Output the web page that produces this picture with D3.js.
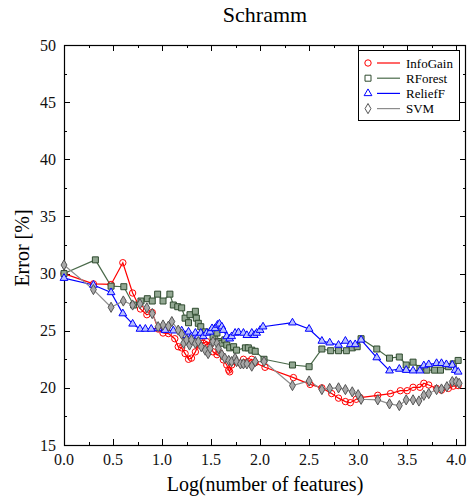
<!DOCTYPE html>
<html>
<head>
<meta charset="utf-8">
<script src="https://cdn.jsdelivr.net/npm/d3@7"></script>
<style>
  body { margin: 0; background: #fff; }
  svg text { font-family: "Liberation Serif", "DejaVu Serif", serif; }
</style>
</head>
<body>
<div id="chart"></div>
<script>
// data: [log10(number of features), error %]
const infoGain = [
  [0.00,30.0],[0.30,29.1],[0.48,29.05],[0.60,30.95],[0.70,28.3],[0.78,26.9],[0.845,26.4],[0.90,26.6],
  [0.96,25.15],[1.01,24.8],[1.065,24.75],[1.13,24.3],[1.165,23.6],[1.20,23.5],[1.235,23.0],[1.27,22.5],
  [1.30,22.6],[1.34,23.15],[1.37,23.75],[1.39,24.05],[1.42,23.9],[1.455,24.05],[1.49,23.75],[1.52,23.15],
  [1.56,22.9],[1.59,23.05],[1.625,22.45],[1.66,22.0],[1.68,21.55],[1.69,21.4],[1.71,22.0],[1.745,22.3],
  [1.80,22.15],[1.83,22.5],[1.88,22.3],[1.915,22.5],[1.95,22.2],[2.05,21.8],[2.34,20.9],[2.51,20.3],
  [2.63,20.0],[2.73,19.5],[2.80,19.1],[2.87,18.8],[2.92,18.7],[2.98,19.0],[3.02,19.15],[3.20,19.35],
  [3.33,19.5],[3.43,19.75],[3.50,19.75],[3.56,20.05],[3.63,20.05],[3.67,20.4],[3.72,20.25],[3.80,19.95],
  [3.85,19.8],[3.92,19.95],[3.97,20.15],[4.02,20.2]
];
const rForest = [
  [0.00,30.0],[0.32,31.2],[0.48,28.9],[0.61,28.85],[0.71,27.25],[0.785,27.6],[0.85,27.8],[0.90,27.6],
  [0.955,28.2],[1.01,27.6],[1.08,28.2],[1.115,27.25],[1.16,27.1],[1.20,27.0],[1.235,26.1],[1.27,25.7],
  [1.285,26.4],[1.34,26.7],[1.35,26.1],[1.37,25.65],[1.395,25.35],[1.44,24.9],[1.52,24.5],[1.56,24.8],
  [1.575,24.05],[1.61,23.9],[1.64,24.2],[1.66,23.75],[1.69,23.5],[1.73,23.6],[1.76,23.3],[1.85,23.5],
  [1.88,23.5],[1.915,23.3],[1.95,23.2],[2.04,22.5],[2.33,22.0],[2.50,21.85],[2.63,23.4],[2.72,23.25],
  [2.80,23.25],[2.88,23.25],[2.94,23.5],[2.99,23.6],[3.03,24.3],[3.19,23.4],[3.32,22.6],[3.42,22.7],
  [3.49,22.0],[3.56,22.25],[3.63,21.7],[3.70,21.55],[3.78,21.55],[3.84,21.55],[3.92,21.85],[3.97,22.1],
  [4.02,22.4]
];
const reliefF = [
  [0.00,29.6],[0.30,29.0],[0.48,28.35],[0.60,26.5],[0.70,25.6],[0.775,25.15],[0.83,25.15],[0.89,25.15],
  [0.96,25.2],[1.03,25.05],[1.115,25.0],[1.20,25.0],[1.235,24.6],[1.27,24.9],[1.30,24.5],[1.34,24.8],
  [1.37,24.5],[1.395,24.8],[1.42,24.5],[1.455,24.8],[1.49,24.9],[1.51,25.2],[1.54,25.2],[1.565,25.5],
  [1.585,25.6],[1.61,25.35],[1.625,25.05],[1.66,24.5],[1.69,24.3],[1.71,24.5],[1.745,24.8],[1.78,24.85],
  [1.83,24.8],[1.865,24.6],[1.915,24.8],[1.94,24.6],[1.965,24.8],[2.00,25.05],[2.03,25.35],[2.33,25.7],
  [2.50,25.15],[2.63,24.1],[2.71,23.95],[2.80,23.75],[2.87,24.1],[2.92,23.8],[2.97,23.8],[3.03,24.2],
  [3.19,22.65],[3.32,21.5],[3.42,21.65],[3.49,21.55],[3.56,21.5],[3.63,21.5],[3.67,21.95],[3.72,22.05],
  [3.80,22.15],[3.85,22.15],[3.90,22.05],[3.96,22.0],[3.99,21.55],[4.02,21.4]
];
const svm = [
  [0.00,30.75],[0.30,28.6],[0.48,27.05],[0.605,27.6],[0.70,27.25],[0.775,27.35],[0.845,27.0],[0.90,26.5],
  [0.96,25.35],[1.01,25.5],[1.065,25.4],[1.10,25.8],[1.165,25.05],[1.20,24.7],[1.22,23.9],[1.25,24.2],
  [1.28,23.75],[1.30,24.2],[1.34,23.9],[1.37,24.05],[1.40,23.6],[1.44,23.3],[1.47,23.0],[1.49,23.45],
  [1.52,24.05],[1.56,23.9],[1.575,23.45],[1.61,22.9],[1.64,22.6],[1.68,22.4],[1.71,22.3],[1.745,22.6],
  [1.76,22.3],[1.80,22.1],[1.83,22.1],[1.865,22.1],[1.915,21.9],[1.95,22.3],[2.04,22.3],[2.33,20.2],
  [2.50,20.6],[2.63,19.85],[2.71,19.95],[2.80,20.0],[2.87,19.85],[2.94,19.65],[3.00,19.4],[3.03,19.0],
  [3.20,18.95],[3.32,18.6],[3.42,18.45],[3.49,18.95],[3.56,18.95],[3.62,18.85],[3.67,19.35],[3.72,19.5],
  [3.80,19.85],[3.85,19.9],[3.905,20.1],[3.96,20.55],[4.00,20.55],[4.03,20.4]
];
const seriesNames = ["InfoGain", "RForest", "ReliefF", "SVM"];
const xTicks = [0, 0.5, 1.0, 1.5, 2.0, 2.5, 3.0, 3.5, 4.0];
const yTicks = [15, 20, 25, 30, 35, 40, 45, 50];

const width = 468, height = 503;
const marginTop = 45, marginRight = 2, marginBottom = 58, marginLeft = 64;

const svg = d3.select("#chart").append("svg")
  .attr("width", width)
  .attr("height", height);

const x = d3.scaleLinear().domain([0, 4.1]).range([marginLeft, width - marginRight]);
const y = d3.scaleLinear().domain([15, 50]).range([height - marginBottom, marginTop]);

const styles = [
  { data: infoGain, line: "#ff0000", stroke: "#ff0000", fill: "none", symbol: d3.symbolCircle, size: 32 },
  { data: rForest, line: "#4a6a4a", stroke: "#2f4a2f", fill: "#93a893", symbol: d3.symbolSquare, size: 36 },
  { data: reliefF, line: "#0000ff", stroke: "#0000ff", fill: "#b8c0ff", symbol: d3.symbolTriangle, size: 26 },
  { data: svm, line: "#8c8c8c", stroke: "#555555", fill: "#a8a8a8", symbol: d3.symbolDiamond, size: 30 }
];

// minor + major ticks, pointing inward on all four sides
const xMinor = d3.range(0, 4.01, 0.25);
const yMinor = d3.range(15, 50.01, 2.5);
const frame = svg.append("g").attr("stroke", "#000").attr("stroke-width", 1);
const x0 = x.range()[0], x1 = x.range()[1], yb = y.range()[0], yt = y.range()[1];

xMinor.forEach(t => {
  const len = xTicks.some(v => Math.abs(v - t) < 1e-6) ? 6 : 3;
  const px = Math.round(x(t)) + 0.5;
  frame.append("line").attr("x1", px).attr("x2", px).attr("y1", yb).attr("y2", yb - len);
  frame.append("line").attr("x1", px).attr("x2", px).attr("y1", yt).attr("y2", yt + len);
});
yMinor.forEach(t => {
  const len = yTicks.some(v => Math.abs(v - t) < 1e-6) ? 6 : 3;
  const py = Math.round(y(t)) + 0.5;
  frame.append("line").attr("x1", x0).attr("x2", x0 + len).attr("y1", py).attr("y2", py);
  frame.append("line").attr("x1", x1).attr("x2", x1 - len).attr("y1", py).attr("y2", py);
});
frame.append("rect")
  .attr("x", x0 + 0.5).attr("y", yt + 0.5)
  .attr("width", x1 - x0 - 1).attr("height", yb - yt)
  .attr("fill", "none").attr("stroke-width", 1.2);

// tick labels
svg.append("g").selectAll("text").data(xTicks).join("text")
  .attr("x", d => x(d)).attr("y", yb + 20)
  .attr("text-anchor", "middle").attr("font-size", 16).attr("fill", "#111")
  .text(d => d.toFixed(1));
svg.append("g").selectAll("text").data(yTicks).join("text")
  .attr("x", x0 - 8).attr("y", d => y(d)).attr("dy", "0.35em")
  .attr("text-anchor", "end").attr("font-size", 16).attr("fill", "#111")
  .text(d => d);

// titles
svg.append("text").attr("x", (x0 + x1) / 2).attr("y", 22)
  .attr("text-anchor", "middle").attr("font-size", 22).text("Schramm");
svg.append("text").attr("x", (x0 + x1) / 2).attr("y", 491)
  .attr("text-anchor", "middle").attr("font-size", 20).text("Log(number of features)");
svg.append("text").attr("transform", "translate(29,248) rotate(-90)")
  .attr("text-anchor", "middle").attr("font-size", 20).text("Error [%]");

// series
const line = d3.line().x(d => x(d[0])).y(d => y(d[1]));
styles.forEach(s => {
  svg.append("path").datum(s.data)
    .attr("d", line).attr("fill", "none")
    .attr("stroke", s.line).attr("stroke-width", 1.2);
});
styles.forEach(s => {
  const sym = d3.symbol().type(s.symbol).size(s.size);
  svg.append("g").selectAll("path").data(s.data).join("path")
    .attr("d", sym)
    .attr("transform", d => `translate(${x(d[0])},${y(d[1])})`)
    .attr("fill", s.fill).attr("stroke", s.stroke).attr("stroke-width", 1);
});

// legend
const legend = svg.append("g");
legend.append("rect").attr("x", 358.5).attr("y", 50.5).attr("width", 101).attr("height", 70)
  .attr("fill", "#fff").attr("stroke", "#000");
seriesNames.forEach((name, i) => {
  const s = styles[i];
  const ly = 63 + i * 15.2;
  legend.append("line").attr("x1", 377).attr("x2", 400).attr("y1", ly).attr("y2", ly)
    .attr("stroke", s.line).attr("stroke-width", 1.2);
  legend.append("path").attr("d", d3.symbol().type(s.symbol).size(s.size)())
    .attr("transform", `translate(368,${ly})`)
    .attr("fill", s.fill === "none" ? "none" : "#fff").attr("stroke", s.stroke);
  legend.append("text").attr("x", 406).attr("y", ly).attr("dy", "0.35em")
    .attr("font-size", 13).text(name);
});
</script>
</body>
</html>
